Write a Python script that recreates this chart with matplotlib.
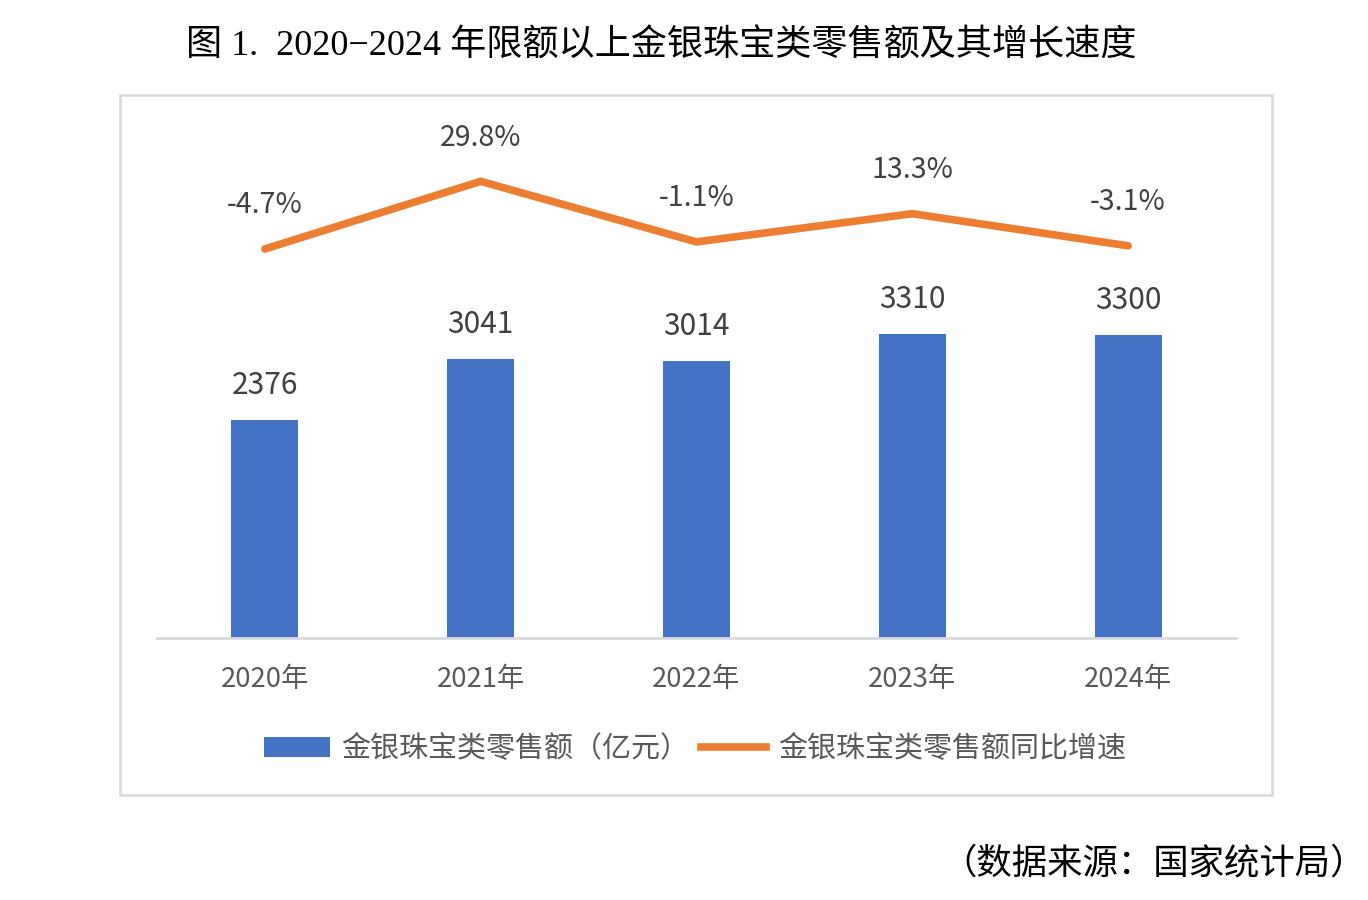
import matplotlib
matplotlib.use("Agg")
import matplotlib.pyplot as plt
from matplotlib.patches import Rectangle, Patch
from matplotlib.lines import Line2D

plt.rcParams['font.family'] = ['Noto Sans CJK SC', 'DejaVu Sans']

years = ["2020年", "2021年", "2022年", "2023年", "2024年"]
sales = [2376, 3041, 3014, 3310, 3300]
growth = [-4.7, 29.8, -1.1, 13.3, -3.1]

bar_color = "#4472C4"
line_color = "#ED7D31"
text_color = "#404040"

fig = plt.figure(figsize=(13.68, 9), dpi=100)

# outer chart frame
fig.patches.append(Rectangle((120 / 1368, 1 - 795 / 900), 1152 / 1368, 700 / 900,
                             transform=fig.transFigure, fill=False,
                             edgecolor="#d9d9d9", linewidth=1.8, zorder=0))

ax = fig.add_axes([157 / 1368, 1 - 638 / 900, 1079 / 1368, 528 / 900])
x = list(range(len(years)))
ax.bar(x, sales, width=0.31, color=bar_color, zorder=2)
ax.set_xlim(-0.5, 4.5)
ax.set_ylim(0, 5752)
for s in ["top", "right", "left"]:
    ax.spines[s].set_visible(False)
ax.spines["bottom"].set_color("#d9d9d9")
ax.spines["bottom"].set_linewidth(2)
ax.set_yticks([])
ax.set_xticks(x)
ax.set_xticklabels(years, fontsize=19.7, color="#595959")
ax.tick_params(axis="x", length=0, pad=20)

for xi, v in zip(x, sales):
    ax.annotate(str(v), (xi, v), xytext=(0, 25), textcoords="offset points",
                ha="center", va="center", fontsize=21.5, color=text_color)

ax2 = ax.twinx()
ax2.plot(x, growth, color=line_color, linewidth=5.5, solid_capstyle="round",
         solid_joinstyle="round", zorder=3)
ax2.set_ylim(-203.2, 66.2)
ax2.axis("off")
for xi, v in zip(x, growth):
    ax2.annotate(f"{v}%", (xi, v), xytext=(0, 31.5), textcoords="offset points",
                 ha="center", va="center", fontsize=20.5, color=text_color)

handles = [Patch(facecolor=bar_color),
           Line2D([0], [0], color=line_color, linewidth=5.5)]
labels = ["金银珠宝类零售额（亿元）", "金银珠宝类零售额同比增速"]
fig.legend(handles, labels, loc="center", bbox_to_anchor=(695 / 1368, 1 - 749 / 900),
           ncol=2, frameon=False, fontsize=20.9, handlelength=2.25,
           handletextpad=0.4, columnspacing=0.4, labelcolor="#595959")

fig.text(661 / 1368, 1 - 47 / 900, "图 1.  2020−2024 年限额以上金银珠宝类零售额及其增长速度",
         ha="center", va="center", fontsize=26, color="black",
         family=["Liberation Serif", "Noto Sans CJK SC"])
fig.text(1366 / 1368, 1 - 864 / 900, "（数据来源：国家统计局）",
         ha="right", va="center", fontsize=25.5, color="black",
         family=["Liberation Serif", "Noto Sans CJK SC"])

fig.savefig("out.png", dpi=100)
